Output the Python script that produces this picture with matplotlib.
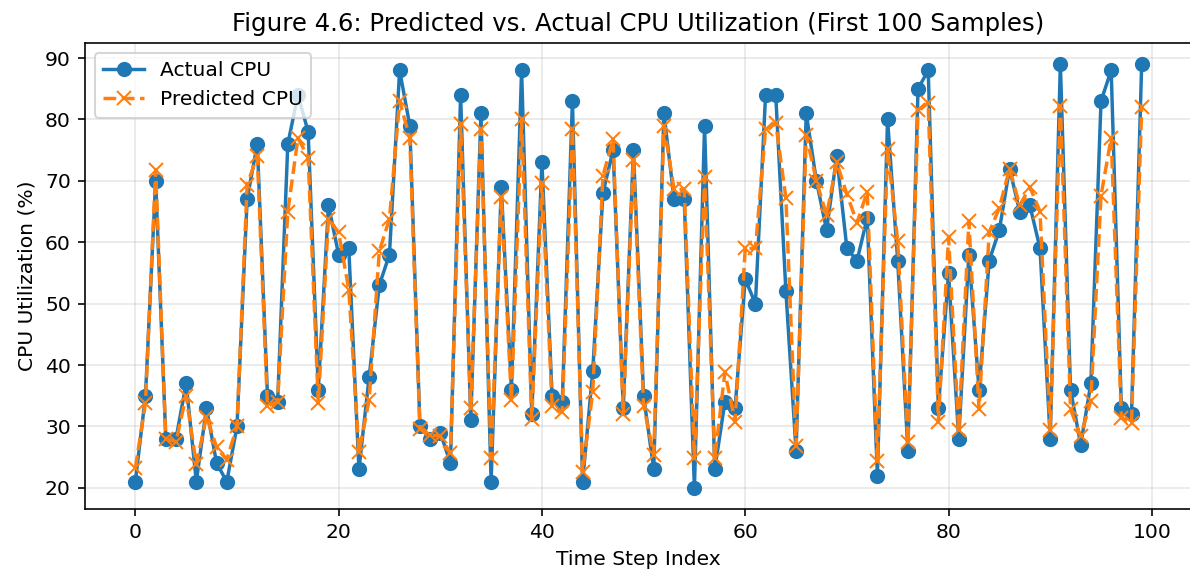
import numpy as np
import matplotlib
matplotlib.use("Agg")
import matplotlib.pyplot as plt

# valores
actual_cpu = [
    21, 35, 70, 28, 28, 37, 21, 33, 24, 21,
    30, 67, 76, 35, 34, 76, 84, 78, 36, 66,
    58, 59, 23, 38, 53, 58, 88, 79, 30, 28,
    29, 24, 84, 31, 81, 21, 69, 36, 88, 32,
    73, 35, 34, 83, 21, 39, 68, 75, 33, 75,
    35, 23, 81, 67, 67, 20, 79, 23, 34, 33,
    54, 50, 84, 84, 52, 26, 81, 70, 62, 74,
    59, 57, 64, 22, 80, 57, 26, 85, 88, 33,
    55, 28, 58, 36, 57, 62, 72, 65, 66, 59,
    28, 89, 36, 27, 37, 83, 88, 33, 32, 89,
]

predicted_cpu = [
    23.2, 33.8, 71.8, 28.0, 27.5, 35.0, 23.8, 31.6, 26.6, 24.6,
    30.0, 69.4, 74.0, 33.3, 34.0, 65.0, 77.0, 73.8, 33.8, 63.8,
    61.6, 52.3, 25.8, 34.3, 58.5, 63.8, 83.0, 77.0, 29.6, 28.6,
    28.4, 25.6, 79.2, 33.0, 78.4, 24.8, 67.4, 34.3, 80.0, 31.2,
    69.6, 33.4, 32.3, 78.4, 22.6, 35.6, 70.8, 76.8, 32.0, 73.4,
    33.4, 25.4, 79.0, 68.6, 68.6, 24.8, 70.6, 24.8, 38.8, 30.8,
    59.0, 59.0, 78.4, 79.4, 67.2, 26.8, 77.4, 70.0, 64.4, 73.0,
    67.8, 63.2, 68.2, 24.4, 75.2, 60.2, 27.4, 81.6, 82.6, 30.8,
    60.8, 29.4, 63.4, 32.8, 61.6, 65.6, 72.0, 66.0, 69.0, 65.0,
    29.4, 82.2, 32.8, 28.4, 34.2, 67.6, 77.0, 31.4, 30.6, 82.0,
]

pasos = np.arange(len(actual_cpu))

# dpi alto para que letras, lineas y marcadores salgan con el tamaño del original
DPI = 146
fig = plt.figure(figsize=(1190 / DPI, 577 / DPI), dpi=DPI)
ax = fig.add_axes([85 / 1190, 68 / 577, 1107 / 1190, 466 / 577])

ax.plot(pasos, actual_cpu, marker="o", linestyle="-", linewidth=1.7,
        markersize=6.5, label="Actual CPU")
ax.plot(pasos, predicted_cpu, marker="x", linestyle="--", linewidth=1.7,
        markersize=6.5, label="Predicted CPU")

ax.set_title("Figure 4.6: Predicted vs. Actual CPU Utilization (First 100 Samples)")
ax.set_xlabel("Time Step Index")
ax.set_ylabel("CPU Utilization (%)")
ax.legend(loc="upper left")
ax.grid(True, alpha=0.3)

fig.savefig("out.png", dpi=DPI)
